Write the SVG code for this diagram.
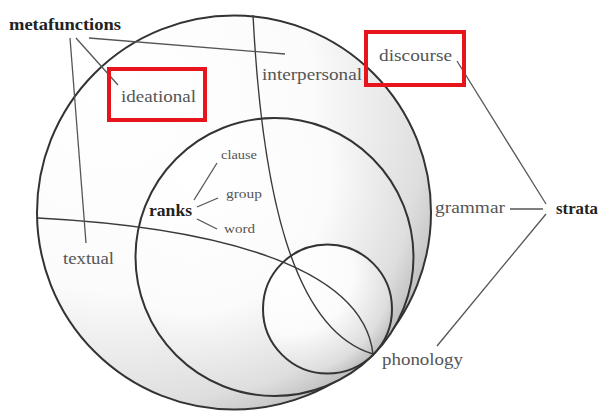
<svg xmlns="http://www.w3.org/2000/svg" width="598" height="415" viewBox="0 0 598 415">
<defs>
<radialGradient id="shade" cx="0.2" cy="0.2" r="1" fx="0.2" fy="0.2">
<stop offset="0" stop-color="#ffffff"/>
<stop offset="0.5" stop-color="#fbfbfb"/>
<stop offset="0.8" stop-color="#dedede"/>
<stop offset="0.95" stop-color="#b6b6b6"/>
</radialGradient>
<style>
.circ{fill:url(#shade);stroke:#333;stroke-width:2}
.curve{fill:none;stroke:#3a3a3a;stroke-width:1.4}
.lead{fill:none;stroke:#555;stroke-width:1.3}
.lbl{font-family:"Liberation Serif","DejaVu Serif",serif;font-size:17px;fill:#555}
.sm{font-family:"Liberation Serif","DejaVu Serif",serif;font-size:13px;fill:#555}
.bold{font-family:"Liberation Serif","DejaVu Serif",serif;font-size:16px;font-weight:bold;fill:#222}
.box{fill:none;stroke:#e8141c;stroke-width:4}
</style>
</defs>
<rect width="598" height="415" fill="#fff"/>
<g id="circles">
<circle id="outer" class="circ" cx="234" cy="212.5" r="197"/>
<circle id="middle" class="circ" cx="274.5" cy="257" r="139"/>
<circle id="inner" class="circ" cx="327.5" cy="309" r="64.5"/>
<path class="curve" d="M253,15 C262,190 292,330 373,354"/>
<path class="curve" d="M38,218 C190,226 362,258 373,354"/>
</g>
<g id="connectors">
<line class="lead" x1="70" y1="38" x2="86" y2="243"/>
<line class="lead" x1="76" y1="38" x2="118" y2="85"/>
<line class="lead" x1="89" y1="38" x2="285" y2="54"/>
<line class="lead" x1="194" y1="200" x2="217" y2="163"/>
<line class="lead" x1="197" y1="207" x2="218" y2="198"/>
<line class="lead" x1="197" y1="219" x2="217" y2="229"/>
<line class="lead" x1="457" y1="61" x2="546" y2="204"/>
<line class="lead" x1="510" y1="209" x2="543" y2="209"/>
<line class="lead" x1="546" y1="214" x2="437" y2="346"/>
</g>
<g id="metafunctions"><text class="bold" x="9" y="30" textLength="112" lengthAdjust="spacingAndGlyphs">metafunctions</text></g>
<g id="ideational"><rect class="box" x="109" y="69" width="96" height="51"/><text class="lbl" x="121" y="102" textLength="75" lengthAdjust="spacingAndGlyphs">ideational</text></g>
<g id="interpersonal"><text class="lbl" x="262" y="80" textLength="100" lengthAdjust="spacingAndGlyphs">interpersonal</text></g>
<g id="textual"><text class="lbl" x="63" y="264" textLength="51" lengthAdjust="spacingAndGlyphs">textual</text></g>
<g id="discourse"><rect class="box" x="366" y="32" width="98" height="53"/><text class="lbl" x="379" y="61" textLength="73" lengthAdjust="spacingAndGlyphs">discourse</text></g>
<g id="grammar"><text class="lbl" x="435" y="213" textLength="70" lengthAdjust="spacingAndGlyphs">grammar</text></g>
<g id="phonology"><text class="lbl" x="382" y="365" textLength="81" lengthAdjust="spacingAndGlyphs">phonology</text></g>
<g id="strata"><text class="bold" x="556" y="214" textLength="42" lengthAdjust="spacingAndGlyphs">strata</text></g>
<g id="ranks"><text class="bold" x="149" y="216" textLength="43" lengthAdjust="spacingAndGlyphs">ranks</text></g>
<g id="clause"><text class="sm" x="221" y="159" textLength="36" lengthAdjust="spacingAndGlyphs">clause</text></g>
<g id="group"><text class="sm" x="226" y="198" textLength="36" lengthAdjust="spacingAndGlyphs">group</text></g>
<g id="word"><text class="sm" x="224" y="233" textLength="31" lengthAdjust="spacingAndGlyphs">word</text></g>
</svg>
